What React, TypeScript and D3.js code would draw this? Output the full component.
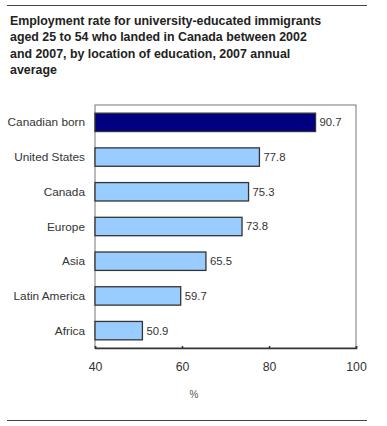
import React, { useEffect, useRef } from "react";
import * as d3 from "d3";

const categories = ["Canadian born", "United States", "Canada", "Europe", "Asia", "Latin America", "Africa"];
const values = [90.7, 77.8, 75.3, 73.8, 65.5, 59.7, 50.9];
const ticks = [40, 60, 80, 100];
const titleLines = [
  "Employment rate for university-educated immigrants",
  "aged 25 to 54 who landed in Canada between 2002",
  "and 2007, by location of education, 2007 annual",
  "average",
];

const width = 387;
const height = 426;

export default function App() {
  const ref = useRef<SVGSVGElement>(null);

  useEffect(() => {
    const svg = d3.select(ref.current);
    svg.selectAll("*").remove();
    const font = "'Liberation Sans', Arial, sans-serif";

    const left = 95, right = 356, top = 105, bottom = 348;

    const x = d3.scaleLinear().domain([40, 100]).range([left, right]);
    const y = d3.scaleBand().domain(categories).range([top, bottom]).paddingInner(0.47).paddingOuter(0.235);

    // rules
    svg.append("line").attr("x1", 7).attr("x2", 367).attr("y1", 5.5).attr("y2", 5.5)
      .attr("stroke", "#444").attr("stroke-width", 1);
    svg.append("line").attr("x1", 7).attr("x2", 367).attr("y1", 420.5).attr("y2", 420.5)
      .attr("stroke", "#444").attr("stroke-width", 1);

    // title
    svg.append("g").selectAll("text").data(titleLines).join("text")
      .attr("x", 10).attr("y", (d, i) => 25 + i * 16.3)
      .attr("font-family", font).attr("font-weight", "bold").attr("font-size", 12.4)
      .attr("fill", "#222").text(d => d);

    // plot frame
    svg.append("rect").attr("x", left).attr("y", top).attr("width", right - left).attr("height", bottom - top)
      .attr("fill", "none").attr("stroke", "#777").attr("stroke-width", 1);

    // bars
    svg.append("g").selectAll("rect").data(values).join("rect")
      .attr("x", left)
      .attr("y", (d, i) => y(categories[i])!)
      .attr("width", d => x(d) - left)
      .attr("height", y.bandwidth())
      .attr("fill", (d, i) => i === 0 ? "#000080" : "#99ccff")
      .attr("stroke", "#333").attr("stroke-width", 1.3);

    // value labels
    svg.append("g").selectAll("text").data(values).join("text")
      .attr("x", d => x(d) + 4)
      .attr("y", (d, i) => y(categories[i])! + y.bandwidth() / 2)
      .attr("dy", "0.35em")
      .attr("font-family", font).attr("font-size", 11.3).attr("fill", "#333")
      .text(d => d.toFixed(1));

    // category labels
    svg.append("g").selectAll("text").data(categories).join("text")
      .attr("x", left - 10)
      .attr("y", d => y(d)! + y.bandwidth() / 2)
      .attr("dy", "0.35em")
      .attr("text-anchor", "end")
      .attr("font-family", font).attr("font-size", 11.8).attr("fill", "#333")
      .text(d => d);

    // x axis
    const gx = svg.append("g").attr("transform", `translate(0,${bottom})`)
      .call(d3.axisBottom(x).tickValues(ticks).tickSize(-2).tickPadding(14).tickFormat(d3.format("d")));
    gx.select(".domain").attr("stroke", "#333").attr("stroke-width", 1.5);
    gx.selectAll(".tick line").attr("stroke", "#333").attr("stroke-width", 1.5);
    gx.selectAll(".tick text").attr("font-family", font).attr("font-size", 12.3).attr("fill", "#333");

    svg.append("text").attr("x", x(60) + 12).attr("y", 398).attr("text-anchor", "middle")
      .attr("font-family", font).attr("font-size", 10).attr("fill", "#555").text("%");
  }, []);

  return <svg ref={ref} width={width} height={height} style={{ position: "absolute", left: 0, top: 0 }} />;
}
